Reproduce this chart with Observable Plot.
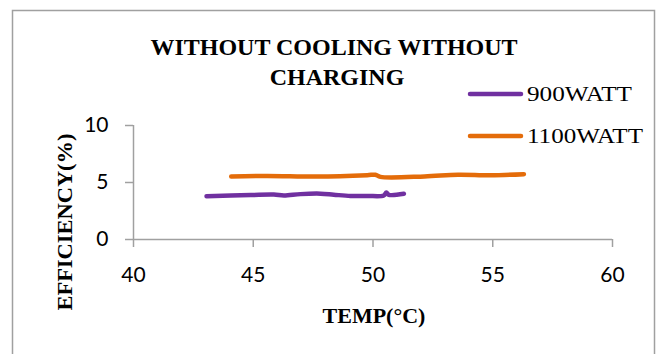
<!DOCTYPE html>
<html>
<head>
<meta charset="utf-8">
<script src="https://cdn.jsdelivr.net/npm/d3@7"></script>
<script src="https://cdn.jsdelivr.net/npm/@observablehq/plot@0.6"></script>
<style>
  html, body { margin: 0; padding: 0; background: #fff; }
  #wrap { position: relative; width: 663px; height: 354px; overflow: hidden; }
  #wrap svg { position: absolute; left: 0; top: 0; }
  #chart [aria-label$="tick"] { stroke: #a0a0a0; }
  #chart [aria-label$="tick"] path { stroke: #a0a0a0; stroke-width: 1.5; }
</style>
</head>
<body>
<div id="wrap">
  <div id="chart"></div>
  <svg id="ann" width="663" height="354" style="pointer-events:none">
    <rect x="12.5" y="10.5" width="642" height="400" fill="none" stroke="#a0a0a0" stroke-width="1.5"/>
    <g font-family="'Liberation Serif', 'Times New Roman', serif" font-weight="bold" font-size="24" text-anchor="middle" fill="#000">
      <text id="t1" x="334" y="55"></text>
      <text id="t2" x="337" y="85"></text>
    </g>
    <g id="legend" font-family="'Liberation Serif', 'Times New Roman', serif" font-size="21" fill="#000"></g>
    <text id="xt" x="374" y="323" font-family="'Liberation Serif', serif" font-weight="bold" font-size="22" text-anchor="middle"></text>
    <text id="yt" transform="translate(72,222) rotate(-90)" font-family="'Liberation Serif', serif" font-weight="bold" font-size="22" text-anchor="middle" textLength="177" lengthAdjust="spacingAndGlyphs"></text>
  </svg>
</div>
<script>
// ---- data ----
const titleLines = ["WITHOUT COOLING WITHOUT", "CHARGING"];
const xLabel = "TEMP(°C)";
const yLabel = "EFFICIENCY(%)";
const seriesNames = ["900WATT", "1100WATT"];
const seriesColors = ["#7030a0", "#e46c0a"];
const xTicks = [40, 45, 50, 55, 60];
const yTicks = [0, 5, 10];

const temp900 = [43.05, 44.89, 45.86, 46.28, 46.97, 47.81, 48.36, 49.06, 49.76, 50.45, 50.56, 50.66, 51.29];
const eff900  = [3.80, 3.90, 3.94, 3.86, 3.98, 4.02, 3.93, 3.82, 3.82, 3.86, 4.12, 3.92, 4.01];
const temp1100 = [44.08, 45.58, 47.67, 49.76, 50.10, 50.31, 52.15, 53.55, 54.90, 56.30];
const eff1100  = [5.53, 5.58, 5.52, 5.64, 5.68, 5.49, 5.53, 5.68, 5.63, 5.73];

const d900 = temp900.map((t, i) => ({t, e: eff900[i]}));
const d1100 = temp1100.map((t, i) => ({t, e: eff1100[i]}));

const plot = Plot.plot({
  width: 663,
  height: 354,
  marginLeft: 133,
  marginRight: 51,
  marginTop: 125,
  marginBottom: 115,
  style: {fontFamily: "Lato, 'Open Sans', sans-serif", fontSize: "21px", color: "#000", background: "transparent"},
  x: {domain: [40, 60], ticks: xTicks, tickSize: 8, tickPadding: 20, label: null},
  y: {domain: [0, 10], ticks: yTicks, tickSize: 8, tickPadding: 17, label: null},
  marks: [
    Plot.ruleY([0], {stroke: "#a0a0a0", strokeWidth: 1.5}),
    Plot.ruleX([40], {stroke: "#a0a0a0", strokeWidth: 1.5}),
    Plot.line(d900, {x: "t", y: "e", stroke: seriesColors[0], strokeWidth: 4.5, curve: "catmull-rom", strokeLinecap: "round"}),
    Plot.line(d1100, {x: "t", y: "e", stroke: seriesColors[1], strokeWidth: 4.5, curve: "catmull-rom", strokeLinecap: "round"})
  ]
});
document.getElementById("chart").appendChild(plot);

// titles
document.getElementById("t1").textContent = titleLines[0];
document.getElementById("t2").textContent = titleLines[1];
document.getElementById("xt").textContent = xLabel;
document.getElementById("yt").textContent = yLabel;

// legend
const ns = "http://www.w3.org/2000/svg";
const leg = document.getElementById("legend");
const legY = [94, 136];
const legW = [105, 116];
seriesNames.forEach((name, i) => {
  const l = document.createElementNS(ns, "line");
  l.setAttribute("x1", 470); l.setAttribute("x2", 521);
  l.setAttribute("y1", legY[i]); l.setAttribute("y2", legY[i]);
  l.setAttribute("stroke", seriesColors[i]); l.setAttribute("stroke-width", 4.5);
  l.setAttribute("stroke-linecap", "round");
  leg.appendChild(l);
  const t = document.createElementNS(ns, "text");
  t.setAttribute("x", 527); t.setAttribute("y", legY[i] + 7);
  t.setAttribute("textLength", legW[i]); t.setAttribute("lengthAdjust", "spacingAndGlyphs");
  t.textContent = name;
  leg.appendChild(t);
});
</script>
</body>
</html>
